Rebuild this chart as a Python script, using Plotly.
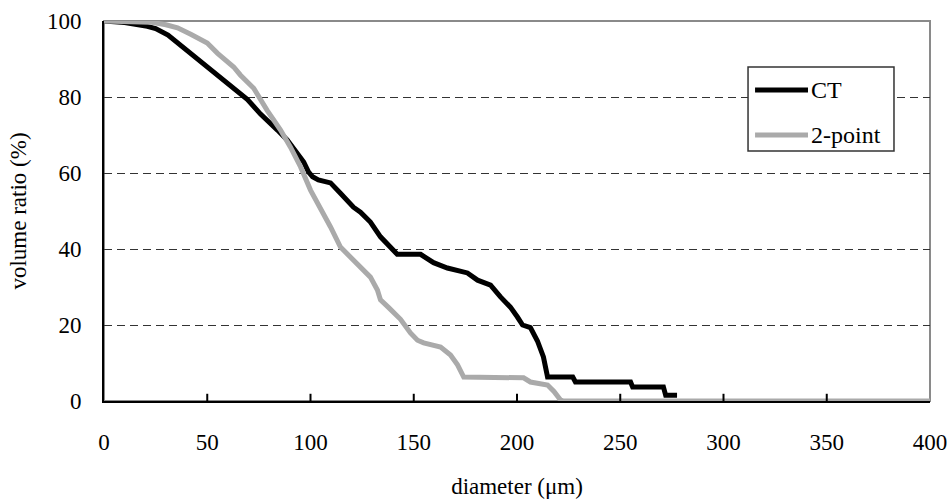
import plotly.graph_objects as go

# Cumulative volume ratio versus pore diameter, two measurement methods
ct_diameter = [0, 10, 21, 25, 31, 38.6, 46.7, 55, 62.8, 69.5, 75.8, 80, 84, 88.7, 91.8,
               94.5, 96.7, 99, 101, 103.8, 109.7, 114.5, 120.8, 124.2, 129, 133.9, 138.7,
               142, 153.3, 159.6, 166.3, 172.6, 176, 180.9, 187.2, 192, 196.8, 200.2,
               202.7, 206.5, 209.9, 212.8, 214.8, 227, 228.3, 255, 256, 270.9, 272, 277.5]
ct_ratio = [100, 99.6, 98.6, 98, 96.3, 92.9, 89.2, 85.8, 82.4, 79.3, 75.5, 73.5, 71.3, 68.7,
            66.5, 64.5, 62.9, 60.3, 59, 58.2, 57.4, 54.7, 51, 49.7, 47.1, 43.2, 40.5, 38.6,
            38.6, 36.4, 35, 34, 33.7, 31.8, 30.5, 27.4, 24.7, 22.1, 20, 19.3, 15.8, 11.6,
            6.3, 6.3, 5, 5, 3.7, 3.7, 1.5, 1.5]

tp_diameter = [0, 22.5, 30, 35.6, 42, 50, 55, 62.8, 66, 72.5, 79, 85.5, 90.3, 95.2, 100,
               104.8, 108.2, 109.7, 114.5, 120.8, 125.7, 129, 132.4, 133.9, 138, 143.6,
               148.4, 151.8, 154.8, 163, 167.8, 171.2, 174.2, 203.2, 206.5, 214.8, 217.9,
               221, 222.5, 400]
tp_ratio = [100, 99.7, 99, 98.2, 96.5, 94.2, 91.5, 87.9, 85.8, 82.3, 76.5, 71.3, 66.8, 61.6,
            55.5, 51, 47.6, 45.8, 40.5, 37.1, 34.5, 32.6, 29.2, 26.6, 24.5, 21.5, 17.9, 16,
            15.3, 14.2, 12.1, 9.5, 6.3, 6.1, 5, 4.2, 2.5, 0.3, 0, 0]

series_names = ["CT", "2-point"]
series_colors = ["#000000", "#aaaaaa"]

x_ticks = [0, 50, 100, 150, 200, 250, 300, 350, 400]
y_ticks = [0, 20, 40, 60, 80, 100]

FONT = "Times New Roman, Liberation Serif, Nimbus Roman, serif"

fig = go.Figure()
for xs, ys, name, color in [(ct_diameter, ct_ratio, series_names[0], series_colors[0]),
                            (tp_diameter, tp_ratio, series_names[1], series_colors[1])]:
    fig.add_trace(go.Scatter(x=xs, y=ys, mode="lines", name=name,
                             line=dict(color=color, width=5)))

# plot frame: grey top and right edges
fig.add_shape(type="rect", xref="paper", yref="paper", x0=0, x1=1, y0=0, y1=1,
              line=dict(color="#8a8a8a", width=2), layer="below")

# short inward tick marks standing on the diameter axis
for xv in x_ticks[1:-1]:
    fig.add_shape(type="line", xref="x", yref="paper", x0=xv, x1=xv, y0=0, y1=0.019,
                  line=dict(color="black", width=2), layer="above")

# legend box with long line samples
fig.add_shape(type="rect", xref="paper", yref="paper", x0=0.7797, x1=0.9564,
              y0=0.6579, y1=0.8789, fillcolor="white",
              line=dict(color="#333333", width=1.5), layer="above")
for row_y, name, color in [(0.8184, series_names[0], series_colors[0]),
                           (0.70, series_names[1], series_colors[1])]:
    fig.add_shape(type="line", xref="paper", yref="paper", x0=0.7882, x1=0.8523,
                  y0=row_y, y1=row_y, line=dict(color=color, width=5), layer="above")
    fig.add_annotation(xref="paper", yref="paper", x=0.8535, y=row_y, text=name,
                       showarrow=False, xanchor="left", yanchor="middle",
                       font=dict(family=FONT, size=24, color="black"))

fig.update_layout(
    width=952, height=504,
    margin=dict(l=104, r=22, t=21, b=103, autoexpand=False),
    paper_bgcolor="white", plot_bgcolor="white",
    font=dict(family=FONT, size=23, color="black"),
    showlegend=False,
    xaxis=dict(range=[0, 400], tickvals=x_ticks, ticks="", showgrid=False,
               zeroline=False, showline=True, linecolor="black", linewidth=2,
               ticklabelstandoff=19, automargin=False, layer="above traces",
               title=dict(text="diameter (μm)", standoff=24,
                          font=dict(family=FONT, size=23))),
    yaxis=dict(range=[0, 100], tickvals=y_ticks, ticks="", showgrid=True,
               gridcolor="#333333", griddash="8px,5px", gridwidth=1.3,
               zeroline=False, showline=True, linecolor="black", linewidth=2,
               ticklabelstandoff=16, automargin=False,
               title=dict(text="volume ratio (%)", standoff=14,
                          font=dict(family=FONT, size=23))),
)

fig.write_html("out.html")
